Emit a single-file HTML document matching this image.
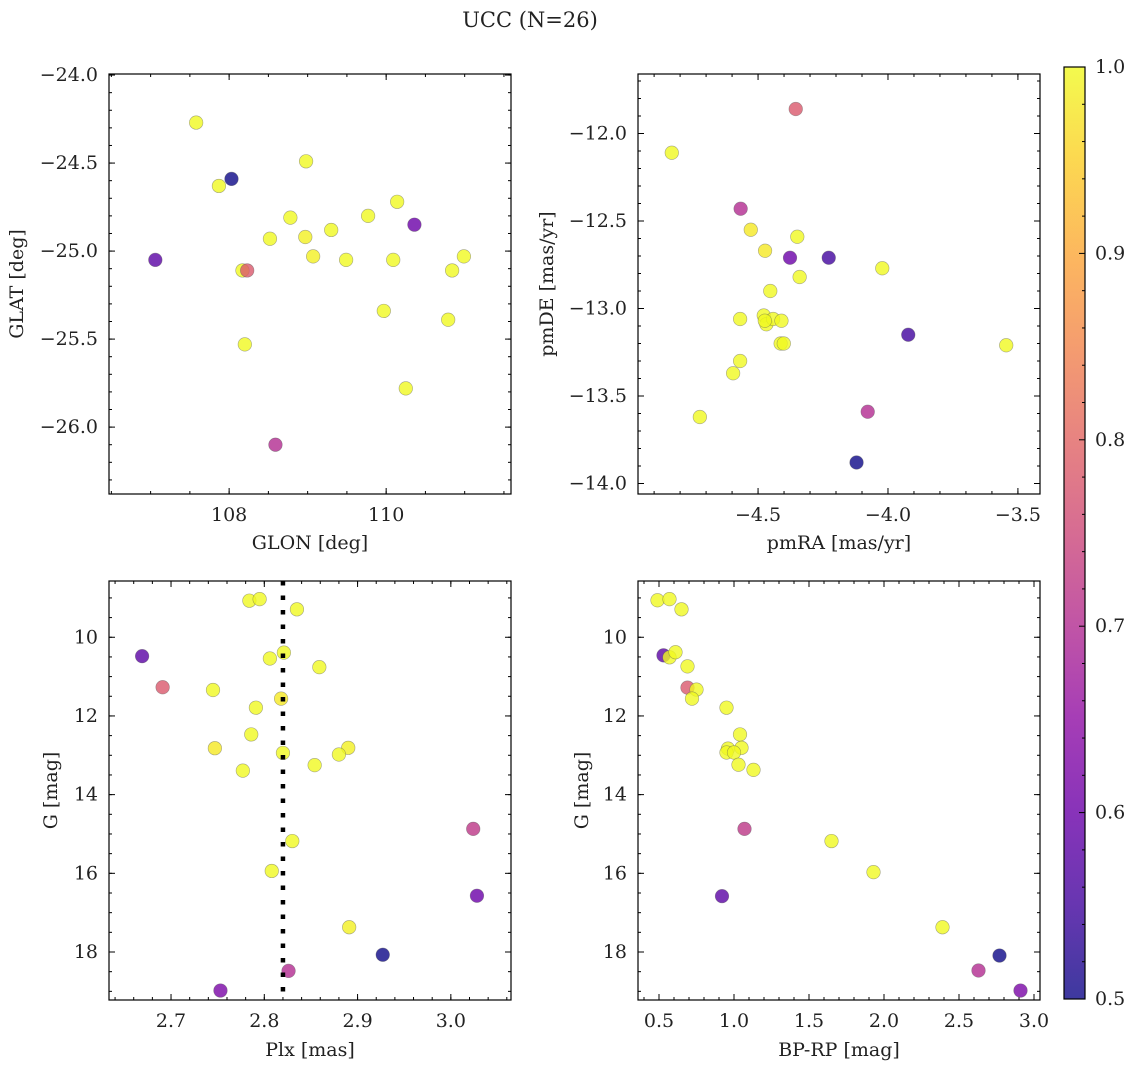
<!DOCTYPE html>
<html><head><meta charset="utf-8"><style>
html,body{margin:0;padding:0;background:#fff;}
svg text{font-family:"DejaVu Serif","Liberation Serif",serif;fill:#222;}
</style></head><body>
<svg id="fig" width="1136" height="1067" viewBox="0 0 1136 1067" xmlns="http://www.w3.org/2000/svg">
<text x="530" y="27" font-size="21" text-anchor="middle">UCC (N=26)</text>
</svg>
<script>
// ---- data (panel arrays) ----
const glon=[107.58,107.87,108.03,107.06,108.17,108.23,108.20,108.59,108.52,108.78,108.98,108.97,109.07,109.30,109.49,109.77,110.09,109.97,110.14,110.25,110.36,110.79,110.84,110.99];
const glat=[-24.27,-24.63,-24.59,-25.05,-25.11,-25.11,-25.53,-26.10,-24.93,-24.81,-24.49,-24.92,-25.03,-24.88,-25.05,-24.80,-25.05,-25.34,-24.72,-25.78,-24.85,-25.39,-25.11,-25.03];
const probA=[1,1,0.5,0.58,1,0.78,1,0.7,1,1,1,0.99,0.99,1,1,1,1,1,1,1,0.6,1,1,1];

const pmra=[-4.355,-4.832,-4.567,-4.528,-4.349,-4.473,-4.377,-4.228,-4.022,-4.340,-4.453,-4.569,-4.478,-4.468,-4.442,-4.410,-3.922,-3.545,-4.413,-4.401,-4.569,-4.596,-4.724,-4.078,-4.121,-4.474];
const pmde=[-11.86,-12.11,-12.43,-12.55,-12.59,-12.67,-12.71,-12.71,-12.77,-12.82,-12.90,-13.06,-13.04,-13.09,-13.06,-13.07,-13.15,-13.21,-13.20,-13.20,-13.30,-13.37,-13.62,-13.59,-13.88,-13.07];
const probB=[0.78,1,0.7,0.98,1,0.98,0.6,0.55,1,1,1,1,1,1,1,1,0.55,1,1,1,1,1,1,0.7,0.5,1];

const plx=[2.784,2.795,2.835,2.669,2.691,2.745,2.806,2.821,2.859,2.818,2.791,2.786,2.747,2.820,2.890,2.880,2.854,2.777,3.024,2.830,2.808,3.028,2.891,2.927,2.826,2.753];
const gmag=[9.07,9.03,9.29,10.48,11.27,11.34,10.54,10.39,10.76,11.56,11.79,12.47,12.82,12.94,12.81,12.98,13.25,13.39,14.87,15.18,15.94,16.57,17.37,18.07,18.48,18.98];
const probC=[1,1,1,0.58,0.78,1,1,1,1,0.98,1,1,0.98,1,0.99,1,1,1,0.72,1,1,0.6,0.99,0.5,0.7,0.62];
const plxLine=[2.82];

const bprp=[0.49,0.57,0.65,0.53,0.57,0.61,0.69,0.69,0.75,0.72,0.95,1.04,0.96,1.05,0.95,1.00,1.03,1.13,1.07,1.65,1.93,0.92,2.39,2.77,2.63,2.91];
const gmag2=[9.06,9.03,9.29,10.46,10.51,10.38,10.74,11.28,11.33,11.56,11.79,12.47,12.83,12.81,12.93,12.93,13.24,13.37,14.87,15.18,15.97,16.58,17.37,18.09,18.47,18.98];
const probD=[1,1,1,0.58,1,1,1,0.78,1,1,1,1,1,1,1,1,1,1,0.72,1,1,0.58,1,0.5,0.7,0.62];

const cbTicks=[0.5,0.6,0.7,0.8,0.9,1.0];

// ---- helpers ----
const NS="http://www.w3.org/2000/svg";
const svg=document.getElementById('fig');
function mk(tag,attrs,parent){const e=document.createElementNS(NS,tag);for(const k in attrs)e.setAttribute(k,attrs[k]);(parent||svg).appendChild(e);return e;}
const plasma=[[13,8,135],[65,4,157],[106,0,168],[143,13,164],[177,42,144],[204,71,120],[225,100,98],[242,132,75],[252,166,54],[252,206,37],[240,249,33]];
function cmap(v){let t=(v-0.5)/0.5;t=Math.max(0,Math.min(1,t));const f=t*10;const i=Math.min(9,Math.floor(f));const r=f-i;const a=plasma[i],b=plasma[i+1];
 return 'rgb('+a.map((c,k)=>Math.round(c+(b[k]-c)*r)).join(',')+')';}
function fmt(v,d){const s=v.toFixed(d);return s.replace('-','\u2212');}
const TF=19, LF=19;

function panel(cfg){
 const {name,L,T,R,B,xmin,xmax,ymin,ymax,invertY}=cfg;
 const sx=v=>L+(v-xmin)/(xmax-xmin)*(R-L);
 const sy=invertY?(v=>T+(v-ymin)/(ymax-ymin)*(B-T)):(v=>B-(v-ymin)/(ymax-ymin)*(B-T));
 const g=mk('g',{});
 
 
 const tg=mk('g',{stroke:'#000','stroke-width':1},g);
 function ticksX(step,len,labels,dec){const s0=Math.ceil(xmin/step-1e-9);for(let k=s0;k*step<=xmax+1e-9;k++){const v=k*step,x=sx(v);
   mk('line',{x1:x,x2:x,y1:B,y2:B-len},tg);mk('line',{x1:x,x2:x,y1:T,y2:T+len},tg);
   if(labels){const t=mk('text',{x:x,y:B+27,'font-size':TF,'text-anchor':'middle'},g);t.textContent=fmt(v,dec);}}}
 function ticksY(step,len,labels,dec){const lo=Math.min(ymin,ymax),hi=Math.max(ymin,ymax);const s0=Math.ceil(lo/step-1e-9);for(let k=s0;k*step<=hi+1e-9;k++){const v=k*step,y=sy(v);
   mk('line',{x1:L,x2:L+len,y1:y,y2:y},tg);mk('line',{x1:R,x2:R-len,y1:y,y2:y},tg);
   if(labels){const t=mk('text',{x:L-11,y:y+6,'font-size':TF,'text-anchor':'end'},g);t.textContent=fmt(v,dec);}}}
 ticksX(cfg.xminor,3,false);ticksX(cfg.xmajor,6,true,cfg.xdec);
 ticksY(cfg.yminor,3,false);ticksY(cfg.ymajor,6,true,cfg.ydec);
 const pg=mk('g',{},g);
 
 
 cfg.xs.forEach((xv,i)=>{const c=mk('circle',{cx:sx(xv),cy:sy(cfg.ys[i]),r:6.8,fill:cmap(cfg.cs[i]),'fill-opacity':0.8,stroke:'#555','stroke-opacity':0.5,'stroke-width':0.6},pg);
   
   });
 if(cfg.vline){cfg.vline.forEach(v=>{const l=mk('line',{x1:sx(v),x2:sx(v),y1:T,y2:B,stroke:'#000','stroke-width':4.5,'stroke-dasharray':'4.5 10'},g);
   
   });}
 const fr=mk('rect',{x:L,y:T,width:R-L,height:B-T,fill:'none',stroke:'#000','stroke-width':1.2},g);
 
 
 const xl=mk('text',{x:(L+R)/2,y:cfg.xly,'font-size':LF,'text-anchor':'middle'},g);xl.textContent=cfg.xlabel;
 
 
 const yl=mk('text',{x:cfg.ylx,y:(T+B)/2,'font-size':LF,'text-anchor':'middle',transform:'rotate(-90 '+cfg.ylx+' '+((T+B)/2)+')'},g);yl.textContent=cfg.ylabel;
 
 
}

panel({name:'glon-glat-panel',L:109,T:74,R:511,B:494,xmin:106.47,xmax:111.59,ymin:-26.38,ymax:-23.994,xmajor:2,xminor:0.5,ymajor:0.5,yminor:0.1,xdec:0,ydec:1,
 xs:glon,ys:glat,cs:probA,xlabel:'GLON [deg]',ylabel:'GLAT [deg]',xly:549,ylx:23});
panel({name:'pm-panel',L:638,T:74,R:1040,B:494,xmin:-4.962,xmax:-3.415,ymin:-14.06,ymax:-11.66,xmajor:0.5,xminor:0.1,ymajor:0.5,yminor:0.1,xdec:1,ydec:1,
 xs:pmra,ys:pmde,cs:probB,xlabel:'pmRA [mas/yr]',ylabel:'pmDE [mas/yr]',xly:549,ylx:553});
panel({name:'plx-g-panel',L:109,T:581,R:511,B:1000,xmin:2.6335,xmax:3.0645,ymin:8.57,ymax:19.22,invertY:true,xmajor:0.1,xminor:0.02,ymajor:2,yminor:0.5,xdec:1,ydec:0,
 xs:plx,ys:gmag,cs:probC,vline:plxLine,xlabel:'Plx [mas]',ylabel:'G [mag]',xly:1056,ylx:57});
panel({name:'cmd-panel',L:638,T:581,R:1040,B:1000,xmin:0.36,xmax:3.04,ymin:8.57,ymax:19.22,invertY:true,xmajor:0.5,xminor:0.1,ymajor:2,yminor:0.5,xdec:1,ydec:0,
 xs:bprp,ys:gmag2,cs:probD,xlabel:'BP-RP [mag]',ylabel:'G [mag]',xly:1056,ylx:588});

// colorbar
const defs=mk('defs',{});
const grad=mk('linearGradient',{id:'cbg',x1:0,y1:1,x2:0,y2:0},defs);
for(let i=0;i<=10;i++){mk('stop',{offset:(i/10),'stop-color':cmap(0.5+i*0.05),'stop-opacity':0.8},grad);}
const cbL=1064,cbR=1085,cbT=67,cbB=999;
const cb=mk('g',{});


mk('rect',{x:cbL,y:cbT,width:cbR-cbL,height:cbB-cbT,fill:'url(#cbg)',stroke:'#000','stroke-width':1.2},cb);
const cby=v=>cbB-(v-0.5)/0.5*(cbB-cbT);
for(let k=25;k<=50;k++){const v=k*0.02,y=cby(v);mk('line',{x1:cbR,x2:cbR-(k%5===0?6:3),y1:y,y2:y,stroke:'#000','stroke-width':1},cb);}
cbTicks.forEach(v=>{const t=mk('text',{x:cbR+10,y:cby(v)+6,'font-size':TF},cb);t.textContent=v.toFixed(1);
 
 });
</script>
</body></html>
